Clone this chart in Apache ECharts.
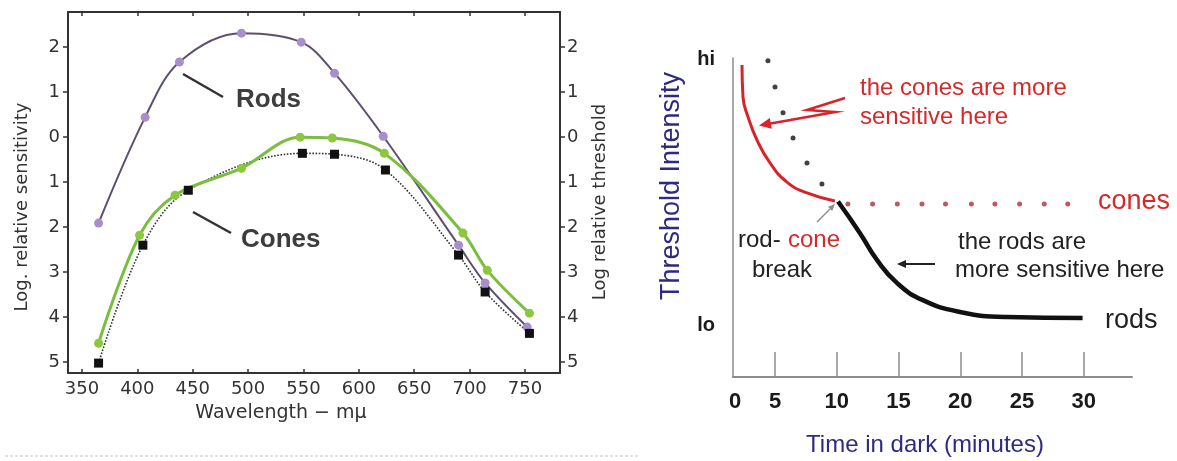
<!DOCTYPE html>
<html>
<head>
<meta charset="utf-8">
<script src="https://cdn.jsdelivr.net/npm/echarts@6.0.0/dist/echarts.min.js"></script>
<style>
html, body { margin: 0; padding: 0; background: #fff; }
#chart { width: 1177px; height: 461px; }
</style>
</head>
<body>
<div id="chart"></div>
<script>
// left panel: spectral sensitivity of rods and cones
const wlTicks = [350, 400, 450, 500, 550, 600, 650, 700, 750];
const logTicks = [-5, -4, -3, -2, -1, 0, 1, 2];

const rodsWl = [365, 407, 438, 494, 548, 578, 622, 690, 714, 752];
const rodsLog = [-1.91, 0.44, 1.67, 2.31, 2.11, 1.42, 0.02, -2.40, -3.24, -4.22];

const conesWl = [365, 402, 434, 494, 547, 576, 623, 694, 716, 754];
const conesLog = [-4.58, -2.18, -1.29, -0.69, 0.0, -0.02, -0.36, -2.13, -2.96, -3.91];

const threshWl = [365, 405, 446, 549, 578, 624, 690, 714, 754];
const threshLog = [-5.02, -2.40, -1.18, -0.36, -0.38, -0.73, -2.62, -3.44, -4.36];

// right panel: dark adaptation curve
const timeTicks = [5, 10, 15, 20, 25, 30];
const levelTicks = [16.3, 99.4];
const levelNames = ['lo', 'hi'];

const coneCurveT = [2.33, 2.41, 2.82, 3.54, 4.6, 5.97, 7.59, 9.85];
const coneCurveV = [97.8, 87.8, 81.5, 74.3, 67.1, 61.1, 57.7, 55.2];

const rodCurveT = [10.1, 11.88, 13.25, 14.87, 16.97, 19.97, 23.77, 29.9];
const rodCurveV = [55.0, 45.1, 36.7, 29.5, 24.1, 20.4, 18.8, 18.5];

const coneDotsT = [10.9, 12.9, 14.9, 16.9, 18.8, 20.9, 22.8, 24.8, 26.8, 28.7];
const coneDotsV = [54.2, 54.2, 54.2, 54.2, 54.2, 54.2, 54.2, 54.2, 54.2, 54.2];

const rodDotsT = [4.43, 5.0, 5.65, 6.46, 7.59, 8.80];
const rodDotsV = [99.1, 90.9, 82.8, 74.9, 67.1, 60.5];

function pairs(xs, ys) {
    return xs.map((x, i) => [x, ys[i]]);
}

function arrowHead(from, tip, len, half, color) {
    const dx = tip[0] - from[0];
    const dy = tip[1] - from[1];
    const l = Math.hypot(dx, dy);
    const ux = dx / l, uy = dy / l;
    const bx = tip[0] - ux * len, by = tip[1] - uy * len;
    return {
        type: 'polygon',
        shape: { points: [tip, [bx - uy * half, by + ux * half], [bx + uy * half, by - ux * half]] },
        style: { fill: color },
    };
}

function label(text, x, y, font, fill, align, rotation) {
    return {
        type: 'text',
        x: x,
        y: y,
        rotation: rotation || 0,
        style: { text: text, font: font, fill: fill, align: align || 'left', verticalAlign: 'middle' },
    };
}

const LEFT_FONT = '"DejaVu Sans"';
const RIGHT_FONT = '"Liberation Sans", Arial';
const RED = '#d42a2a';
const NAVY = '#2d2b7f';
const UP = Math.PI / 2;

const chart = echarts.init(document.getElementById('chart'), null, { renderer: 'canvas' });

const leftAxisLine = { onZero: false, lineStyle: { color: '#333', width: 2 } };
const leftTick = { inside: true, length: 4, lineStyle: { color: '#333', width: 1.5 } };

const option = {
    animation: false,
    backgroundColor: '#fff',
    grid: [
        { left: 68, top: 12, width: 492, height: 361 },
        { left: 733, top: 58, width: 399, height: 319 },
    ],
    xAxis: [
        {
            gridIndex: 0, type: 'value', min: 337.4, max: 781.6, position: 'bottom',
            axisLine: leftAxisLine,
            axisTick: Object.assign({ customValues: wlTicks }, leftTick),
            axisLabel: { customValues: wlTicks, fontFamily: LEFT_FONT, fontSize: 18, color: '#333', margin: 7 },
            splitLine: { show: false },
        },
        {
            gridIndex: 0, type: 'value', min: 337.4, max: 781.6, position: 'top',
            axisLine: leftAxisLine,
            axisTick: Object.assign({ customValues: wlTicks }, leftTick),
            axisLabel: { show: false },
            splitLine: { show: false },
        },
        {
            gridIndex: 1, type: 'value', min: 1.6, max: 33.9,
            axisLine: { onZero: false, lineStyle: { color: '#8c8c8c', width: 2 } },
            axisTick: { customValues: timeTicks, inside: true, length: 25, lineStyle: { color: '#8c8c8c', width: 1.5 } },
            axisLabel: { customValues: timeTicks, fontFamily: RIGHT_FONT, fontSize: 22, fontWeight: 'bold', color: '#1a1a1a', margin: 14 },
            splitLine: { show: false },
        },
    ],
    yAxis: [
        {
            gridIndex: 0, type: 'value', min: -5.24, max: 2.78, position: 'left',
            axisLine: leftAxisLine,
            axisTick: { customValues: logTicks, length: 5, lineStyle: { color: '#333', width: 1.5 } },
            axisLabel: { customValues: logTicks, formatter: v => String(Math.abs(v)), fontFamily: LEFT_FONT, fontSize: 18, color: '#333', margin: 8 },
            splitLine: { show: false },
        },
        {
            gridIndex: 0, type: 'value', min: -5.24, max: 2.78, position: 'right',
            axisLine: leftAxisLine,
            axisTick: { customValues: logTicks, length: 5, lineStyle: { color: '#333', width: 1.5 } },
            axisLabel: { customValues: logTicks, formatter: v => String(Math.abs(v)), fontFamily: LEFT_FONT, fontSize: 18, color: '#333', margin: 7 },
            splitLine: { show: false },
        },
        {
            gridIndex: 1, type: 'value', min: 0, max: 100,
            axisLine: { show: true, onZero: false, lineStyle: { color: '#8c8c8c', width: 1.5 } },
            axisTick: { show: false },
            axisLabel: {
                customValues: levelTicks,
                formatter: v => levelNames[levelTicks.indexOf(v)],
                fontFamily: RIGHT_FONT, fontSize: 20, fontWeight: 'bold', color: '#1a1a1a', margin: 18,
            },
            splitLine: { show: false },
        },
    ],
    series: [
        {
            name: 'Rods', type: 'line', xAxisIndex: 0, yAxisIndex: 0,
            data: pairs(rodsWl, rodsLog), smooth: 0.35,
            symbol: 'circle', symbolSize: 9,
            lineStyle: { color: '#5e4f6e', width: 2 },
            itemStyle: { color: '#a78fcb' },
        },
        {
            name: 'Threshold', type: 'line', xAxisIndex: 0, yAxisIndex: 0,
            data: pairs(threshWl, threshLog), smooth: 0.35,
            symbol: 'rect', symbolSize: 9,
            lineStyle: { color: '#333', width: 1.6, type: 'dotted' },
            itemStyle: { color: '#111' },
        },
        {
            name: 'Cones', type: 'line', xAxisIndex: 0, yAxisIndex: 0,
            data: pairs(conesWl, conesLog), smooth: 0.35,
            symbol: 'circle', symbolSize: 9,
            lineStyle: { color: '#79be3f', width: 3 },
            itemStyle: { color: '#8dc63f' },
        },
        {
            name: 'cones', type: 'line', xAxisIndex: 2, yAxisIndex: 2,
            data: pairs(coneCurveT, coneCurveV), smooth: 0.5,
            showSymbol: false,
            lineStyle: { color: '#d8232a', width: 3 },
        },
        {
            name: 'rods', type: 'line', xAxisIndex: 2, yAxisIndex: 2,
            data: pairs(rodCurveT, rodCurveV), smooth: 0.5,
            showSymbol: false,
            lineStyle: { color: '#111', width: 4.5 },
        },
        {
            name: 'cone plateau', type: 'scatter', xAxisIndex: 2, yAxisIndex: 2,
            data: pairs(coneDotsT, coneDotsV), symbolSize: 5,
            itemStyle: { color: '#a8323a' },
        },
        {
            name: 'rod extension', type: 'scatter', xAxisIndex: 2, yAxisIndex: 2,
            data: pairs(rodDotsT, rodDotsV), symbolSize: 5,
            itemStyle: { color: '#111' },
        },
    ],
    graphic: [
        // left panel annotations
        label('Rods', 236, 100, 'bold 26px ' + RIGHT_FONT, '#3d3d3d'),
        label('Cones', 241, 240, 'bold 26px ' + RIGHT_FONT, '#3d3d3d'),
        { type: 'line', shape: { x1: 183, y1: 74, x2: 223, y2: 97 }, style: { stroke: '#333', lineWidth: 2.5 } },
        { type: 'line', shape: { x1: 193, y1: 212, x2: 231, y2: 233 }, style: { stroke: '#333', lineWidth: 2.5 } },
        label('Log. relative sensitivity', 22, 207, '18px ' + LEFT_FONT, '#333', 'center', UP),
        label('Log relative threshold', 600, 202, '18px ' + LEFT_FONT, '#333', 'center', UP),
        label('Wavelength − mμ', 281, 413, '19px ' + LEFT_FONT, '#333', 'center'),
        { type: 'line', shape: { x1: 5, y1: 456, x2: 640, y2: 456 }, style: { stroke: '#d6d6d6', lineWidth: 1.5, lineDash: [3, 2] } },

        // right panel annotations
        label('Threshold Intensity', 672, 186, '27px ' + RIGHT_FONT, NAVY, 'center', UP),
        label('Time in dark (minutes)', 925, 445, '24px ' + RIGHT_FONT, NAVY, 'center'),
        label('0', 735, 402, 'bold 22px ' + RIGHT_FONT, '#1a1a1a', 'center'),
        label('the cones are more', 860, 88, '24px ' + RIGHT_FONT, RED),
        label('sensitive here', 860, 117, '24px ' + RIGHT_FONT, RED),
        label('cones', 1098, 202, '27px ' + RIGHT_FONT, RED),
        label('rod-', 738, 240, '24px ' + RIGHT_FONT, '#222'),
        label('cone', 788, 240, '24px ' + RIGHT_FONT, RED),
        label('break', 752, 270, '24px ' + RIGHT_FONT, '#222'),
        label('the rods are', 958, 242, '24px ' + RIGHT_FONT, '#222'),
        label('more sensitive here', 955, 270, '24px ' + RIGHT_FONT, '#222'),
        label('rods', 1105, 321, '27px ' + RIGHT_FONT, '#222'),
        { type: 'polyline', shape: { points: [[845, 98], [807, 110], [835, 112], [768, 124]] }, style: { stroke: '#d8232a', lineWidth: 2.5, fill: null } },
        arrowHead([835, 112], [759, 125.5], 12, 5.5, '#d8232a'),
        { type: 'line', shape: { x1: 817, y1: 222, x2: 830, y2: 209 }, style: { stroke: '#8c8c8c', lineWidth: 1.5 } },
        arrowHead([817, 222], [835, 204], 7, 3, '#8c8c8c'),
        { type: 'line', shape: { x1: 935, y1: 264, x2: 905, y2: 264 }, style: { stroke: '#222', lineWidth: 2 } },
        arrowHead([935, 264], [897, 264], 9, 4, '#222'),
    ],
};

chart.setOption(option);
window.addEventListener('resize', () => chart.resize());
</script>
</body>
</html>
